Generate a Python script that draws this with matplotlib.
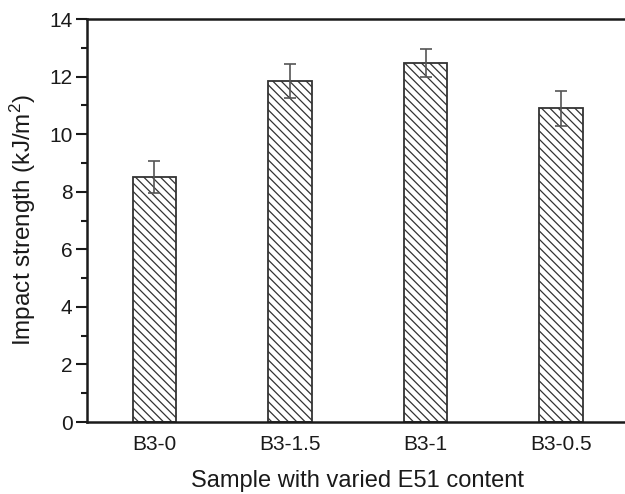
import numpy as np
import matplotlib.pyplot as plt
from matplotlib.ticker import MultipleLocator

plt.rcParams['font.family'] = ['Liberation Sans', 'DejaVu Sans']
plt.rcParams['mathtext.default'] = 'regular'
plt.rcParams['hatch.linewidth'] = 0.9
plt.rcParams['hatch.color'] = '#333333'

# data
samples = ['B3-0', 'B3-1.5', 'B3-1', 'B3-0.5']
strength = [8.5, 11.85, 12.48, 10.9]
err = [0.56, 0.58, 0.48, 0.6]

fig = plt.figure(figsize=(6.25, 4.94), dpi=100)
ax = fig.add_axes([86.5/625, (494-422)/494, (629-86.5)/625, (422-19)/494])

x = np.arange(len(samples))
ax.bar(x, strength, width=0.32, color='white', edgecolor='#333333',
       linewidth=1.3, hatch='\\\\\\\\', zorder=2)
ax.errorbar(x, strength, yerr=err, fmt='none', ecolor='#555555',
            elinewidth=1.2, capsize=4, capthick=1.2, zorder=3)

ax.set_xlim(-0.5, 3.5)
ax.set_ylim(0, 14)
ax.yaxis.set_major_locator(MultipleLocator(2))
ax.yaxis.set_minor_locator(MultipleLocator(1))
ax.set_xticks(x)
ax.set_xticklabels(samples)
ax.tick_params(axis='x', length=0, labelsize=15, pad=9, colors='#1a1a1a')
ax.tick_params(axis='y', which='major', length=8, width=1.5, labelsize=15,
               direction='out', pad=2, colors='#1a1a1a')
ax.tick_params(axis='y', which='minor', length=4, width=1.5, direction='out',
               colors='#1a1a1a')
for s in ax.spines.values():
    s.set_linewidth(1.8)
    s.set_color('#1a1a1a')

ax.set_ylabel('Impact strength (kJ/m$^2$)', fontsize=17.5, color='#1a1a1a')
ax.set_xlabel('Sample with varied E51 content', fontsize=17, color='#1a1a1a',
              labelpad=12)
# put the y label where the reference has it
ax.yaxis.set_label_coords(-(86.5 - 38) / 542.5, 0.5)

fig.savefig('out.png', dpi=100)
